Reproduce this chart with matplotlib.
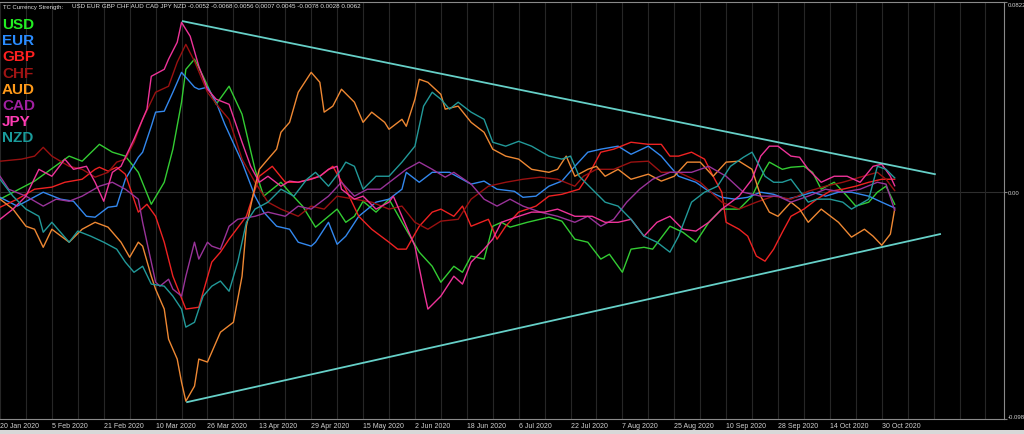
import matplotlib.pyplot as plt
from matplotlib.patches import Rectangle

# bar index = trading day counted from 20 Jan 2020
usd_x = [0, 8, 16, 19, 23, 26, 29, 32, 35, 38, 40, 42, 43, 45, 47, 50, 53, 56, 59, 61,
         63, 65, 67, 70, 73, 76, 78, 80, 82, 84, 87, 90, 93, 97, 100, 102, 105, 107, 109, 112,
         114, 116, 118, 122, 127, 130, 133, 136, 139, 141, 144, 146, 149, 151, 155, 158, 161, 164, 167, 171,
         174, 177, 178, 181, 183, 186, 188, 190, 193, 196, 198, 201, 203, 205, 207]
usd = [-0.0030, 0.0048, 0.0156, 0.0134, 0.0207, 0.0173, 0.0156, 0.0086, -0.0052, 0.0043,
       0.0186, 0.0389, 0.0531, 0.0575, 0.0501, 0.0380, 0.0458, 0.0337, 0.0099, -0.0017,
       0.0013, 0.0043, 0.0000, -0.0060, -0.0151, -0.0104, -0.0073, -0.0130, -0.0104, -0.0039,
       -0.0086, -0.0030, -0.0130, -0.0259, -0.0320, -0.0389, -0.0320, -0.0346, -0.0276, -0.0289,
       -0.0147, -0.0130, -0.0151, -0.0130, -0.0108, -0.0125, -0.0203, -0.0216, -0.0289, -0.0268,
       -0.0346, -0.0246, -0.0238, -0.0246, -0.0147, -0.0173, -0.0216, -0.0130, -0.0073, -0.0073,
       -0.0017, 0.0099, 0.0130, 0.0099, 0.0108, 0.0112, 0.0086, 0.0013, 0.0043, -0.0017,
       -0.0060, -0.0043, 0.0000, 0.0026, -0.0052]

eur_x = [0, 4, 10, 14, 17, 20, 22, 25, 27, 29, 32, 33, 35, 36, 38, 40, 42, 45, 46, 48,
         50, 52, 56, 59, 61, 64, 67, 69, 72, 73, 76, 78, 80, 83, 87, 90, 93, 94, 97, 100,
         104, 109, 112, 115, 119, 121, 124, 127, 130, 133, 136, 139, 143, 146, 150, 153, 155, 157, 161, 164,
         167, 170, 173, 176, 179, 182, 185, 188, 191, 194, 197, 201, 204, 207]
eur = [-0.0022, -0.0060, 0.0000, -0.0030, -0.0039, -0.0104, -0.0108, -0.0065, -0.0060, 0.0056,
       0.0151, 0.0173, 0.0285, 0.0346, 0.0350, 0.0432, 0.0518, 0.0454, 0.0445, 0.0454,
       0.0389, 0.0294, 0.0130, -0.0017, -0.0086, -0.0147, -0.0160, -0.0216, -0.0233, -0.0216,
       -0.0130, -0.0225, -0.0190, -0.0104, -0.0043, -0.0030, 0.0013, 0.0086, 0.0043, 0.0086,
       0.0086, 0.0035, 0.0048, 0.0013, 0.0004, -0.0022, -0.0017, 0.0026, 0.0048, 0.0112,
       0.0173, 0.0186, 0.0199, 0.0164, 0.0199, 0.0156, 0.0112, 0.0069, 0.0043, 0.0004,
       -0.0022, -0.0030, -0.0022, 0.0000, -0.0009, -0.0030, -0.0017, 0.0000, -0.0017, 0.0000,
       0.0000, -0.0017, -0.0043, -0.0068]

gbp_x = [0, 4, 8, 12, 15, 19, 22, 23, 25, 27, 29, 32, 34, 36, 38, 40, 43, 46, 49, 51,
         53, 57, 60, 63, 66, 69, 74, 77, 80, 83, 86, 90, 92, 94, 97, 100, 102, 105, 107, 109,
         113, 115, 117, 120, 124, 127, 130, 134, 136, 139, 142, 146, 150, 153, 155, 157, 160, 163, 165, 167,
         168, 171, 173, 175, 177, 179, 181, 183, 186, 189, 192, 195, 198, 201, 204, 207]
gbp = [-0.0065, -0.0030, 0.0013, 0.0022, 0.0043, 0.0056, 0.0099, 0.0108, 0.0091, 0.0108,
       0.0078, -0.0086, -0.0052, -0.0104, -0.0216, -0.0363, -0.0505, -0.0497, -0.0302, -0.0259,
       -0.0203, -0.0104, 0.0069, 0.0112, 0.0043, 0.0043, 0.0069, 0.0112, 0.0013, -0.0104,
       -0.0160, -0.0216, -0.0246, -0.0246, -0.0147, -0.0086, -0.0073, -0.0104, -0.0060, -0.0147,
       -0.0117, -0.0203, -0.0147, -0.0086, -0.0060, -0.0017, -0.0009, 0.0013, 0.0069, 0.0173,
       0.0186, 0.0216, 0.0207, 0.0207, 0.0156, 0.0156, 0.0173, 0.0143, 0.0069, 0.0000,
       -0.0130, -0.0160, -0.0190, -0.0276, -0.0298, -0.0246, -0.0173, -0.0104, -0.0073, -0.0030,
       0.0004, 0.0013, 0.0026, 0.0043, 0.0056, 0.0056]

chf_x = [0, 5, 8, 10, 12, 16, 19, 22, 25, 27, 29, 31, 33, 36, 39, 41, 43, 45, 48, 51,
         53, 56, 59, 62, 65, 69, 72, 75, 78, 82, 86, 90, 93, 96, 99, 102, 106, 109, 113, 117,
         121, 125, 129, 133, 135, 138, 142, 146, 150, 153, 157, 162, 167, 171, 175, 179, 183, 187, 191, 195,
         199, 203, 205, 207]
chf = [0.0134, 0.0143, 0.0156, 0.0194, 0.0156, 0.0112, 0.0099, 0.0065, 0.0086, 0.0130,
       0.0143, 0.0216, 0.0315, 0.0432, 0.0458, 0.0562, 0.0639, 0.0566, 0.0432, 0.0359,
       0.0315, 0.0143, 0.0043, -0.0043, -0.0073, -0.0104, -0.0060, -0.0073, -0.0017, -0.0030,
       -0.0043, -0.0073, -0.0060, -0.0130, -0.0160, -0.0125, -0.0117, -0.0030, 0.0026, 0.0043,
       0.0056, 0.0065, 0.0056, 0.0026, 0.0069, 0.0099, 0.0099, 0.0130, 0.0134, 0.0086,
       0.0086, 0.0043, -0.0043, -0.0073, -0.0043, -0.0017, -0.0030, 0.0004, 0.0026, 0.0043,
       0.0065, 0.0086, 0.0056, 0.0007]

aud_x = [0, 3, 6, 8, 10, 12, 16, 19, 22, 25, 28, 30, 32, 33, 35, 36, 38, 39, 41, 42,
         43, 45, 46, 48, 49, 51, 54, 56, 57, 59, 60, 62, 64, 65, 67, 69, 72, 74, 75, 77,
         79, 82, 84, 86, 89, 90, 93, 94, 96, 97, 99, 102, 103, 106, 109, 112, 114, 117, 120, 123,
         127, 129, 131, 133, 136, 138, 140, 143, 146, 150, 153, 156, 159, 162, 165, 168, 171, 174, 176, 178,
         180, 183, 185, 187, 190, 194, 197, 200, 202, 204, 206, 207]
aud = [-0.0030, -0.0073, -0.0147, -0.0160, -0.0238, -0.0160, -0.0216, -0.0160, -0.0130, -0.0151,
       -0.0216, -0.0281, -0.0216, -0.0233, -0.0363, -0.0419, -0.0505, -0.0635, -0.0721, -0.0821,
       -0.0903, -0.0838, -0.0721, -0.0734, -0.0691, -0.0605, -0.0562, -0.0363, -0.0147, 0.0026,
       0.0099, 0.0143, 0.0186, 0.0259, 0.0302, 0.0432, 0.0518, 0.0475, 0.0346, 0.0372,
       0.0445, 0.0389, 0.0302, 0.0346, 0.0302, 0.0272, 0.0315, 0.0285, 0.0402, 0.0488,
       0.0475, 0.0423, 0.0359, 0.0372, 0.0302, 0.0259, 0.0186, 0.0156, 0.0143, 0.0099,
       0.0086, 0.0099, 0.0156, 0.0069, 0.0099, 0.0112, 0.0069, 0.0099, 0.0056, 0.0078,
       0.0048, 0.0069, 0.0130, 0.0130, 0.0069, 0.0130, 0.0134, 0.0099, -0.0017, -0.0086,
       -0.0104, -0.0043, -0.0073, -0.0130, -0.0073, -0.0130, -0.0194, -0.0160, -0.0190, -0.0229,
       -0.0181, -0.0073]

cad_x = [0, 2, 6, 10, 13, 16, 19, 23, 26, 29, 32, 33, 35, 36, 37, 39, 40, 42, 43, 45,
         46, 48, 49, 51, 53, 55, 59, 62, 66, 69, 72, 76, 79, 82, 85, 88, 91, 94, 97, 100,
         103, 105, 109, 112, 115, 118, 121, 125, 129, 133, 136, 139, 142, 145, 148, 151, 155, 160, 164, 168,
         172, 176, 180, 183, 187, 191, 195, 199, 203, 205, 207]
cad = [0.0069, 0.0013, -0.0017, -0.0060, -0.0030, -0.0039, -0.0017, 0.0026, 0.0043, 0.0013,
       -0.0030, -0.0130, -0.0302, -0.0389, -0.0406, -0.0376, -0.0419, -0.0449, -0.0363, -0.0216,
       -0.0289, -0.0216, -0.0233, -0.0246, -0.0147, -0.0117, -0.0104, -0.0086, -0.0104, -0.0060,
       -0.0073, -0.0017, 0.0043, -0.0017, 0.0013, 0.0013, 0.0056, 0.0099, 0.0130, 0.0099,
       0.0065, 0.0086, 0.0035, -0.0030, -0.0060, -0.0030, -0.0060, -0.0086, -0.0104, -0.0130,
       -0.0104, -0.0147, -0.0117, -0.0043, 0.0013, 0.0056, 0.0086, 0.0086, 0.0112, 0.0069,
       0.0000, -0.0017, -0.0017, -0.0043, -0.0017, 0.0013, 0.0000, 0.0013, 0.0043, 0.0035,
       -0.0078]

jpy_x = [0, 3, 6, 9, 12, 15, 17, 20, 22, 24, 26, 28, 31, 34, 35, 38, 39, 41, 42, 44,
         46, 48, 50, 53, 56, 58, 60, 62, 65, 67, 69, 72, 74, 76, 78, 79, 82, 84, 87, 90,
         91, 93, 96, 98, 99, 102, 105, 107, 109, 112, 114, 116, 120, 123, 126, 129, 133, 137, 140, 143,
         146, 149, 152, 155, 158, 161, 164, 167, 171, 174, 176, 178, 180, 183, 185, 187, 190, 193, 196, 199,
         202, 204, 206, 207]
jpy = [-0.0117, -0.0073, -0.0017, 0.0099, 0.0069, 0.0143, 0.0099, 0.0112, 0.0043, -0.0039,
       0.0086, 0.0112, 0.0229, 0.0359, 0.0501, 0.0531, 0.0575, 0.0648, 0.0734, 0.0674,
       0.0544, 0.0445, 0.0402, 0.0380, 0.0216, 0.0112, 0.0043, 0.0069, 0.0026, 0.0048,
       0.0043, 0.0056, 0.0069, 0.0099, 0.0112, 0.0013, -0.0030, -0.0017, -0.0073, -0.0043,
       -0.0017, -0.0104, -0.0233, -0.0419, -0.0505, -0.0449, -0.0363, -0.0397, -0.0302, -0.0246,
       -0.0203, -0.0130, -0.0104, -0.0086, -0.0086, -0.0073, -0.0104, -0.0104, -0.0130, -0.0130,
       -0.0117, -0.0190, -0.0130, -0.0104, -0.0160, -0.0168, -0.0130, -0.0073, -0.0017, 0.0056,
       0.0156, 0.0199, 0.0199, 0.0156, 0.0151, 0.0099, 0.0043, 0.0069, 0.0069, 0.0043,
       0.0112, 0.0121, 0.0069, 0.0028]

nzd_x = [0, 3, 6, 9, 10, 12, 16, 18, 21, 24, 27, 29, 31, 33, 35, 38, 40, 42, 43, 45,
         47, 49, 51, 53, 55, 57, 59, 62, 65, 68, 71, 73, 76, 79, 80, 82, 84, 87, 90, 93,
         96, 98, 100, 102, 104, 106, 109, 112, 114, 117, 120, 123, 127, 130, 132, 134, 137, 140, 143, 146,
         149, 152, 155, 157, 160, 163, 166, 169, 172, 174, 177, 179, 181, 183, 187, 189, 192, 195, 197, 201,
         203, 205, 207]
nzd = [0.0056, -0.0017, -0.0073, -0.0104, -0.0173, -0.0130, -0.0216, -0.0168, -0.0190, -0.0216,
       -0.0246, -0.0302, -0.0346, -0.0320, -0.0397, -0.0406, -0.0449, -0.0505, -0.0583, -0.0562,
       -0.0449, -0.0406, -0.0384, -0.0428, -0.0302, -0.0130, -0.0073, -0.0043, 0.0013, -0.0017,
       0.0056, 0.0086, 0.0026, 0.0099, 0.0130, 0.0112, 0.0013, 0.0069, 0.0069, 0.0130,
       0.0199, 0.0372, 0.0432, 0.0402, 0.0359, 0.0389, 0.0346, 0.0315, 0.0216, 0.0199,
       0.0220, 0.0199, 0.0156, 0.0143, 0.0156, 0.0069, 0.0013, -0.0043, -0.0060, -0.0117,
       -0.0190, -0.0216, -0.0259, -0.0190, -0.0043, 0.0000, 0.0026, 0.0112, 0.0151, 0.0173,
       0.0069, 0.0043, 0.0043, 0.0056, -0.0043, -0.0030, -0.0030, -0.0043, -0.0073, -0.0030,
       0.0112, 0.0099, 0.0062]

# hand-drawn triangle (trend lines)
upper_x = [42.3, 216.3]
upper_v = [0.0739, 0.0078]
lower_x = [43.3, 217.5]
lower_v = [-0.0907, -0.0181]

names = ["USD", "EUR", "GBP", "CHF", "AUD", "CAD", "JPY", "NZD"]
label_colors = ["#22ee22", "#2a8cff", "#ff2020", "#a01414", "#ff9a1a", "#a020a0", "#ff3cb4", "#1a9b9b"]
line_colors = ["#33cc33", "#3388ee", "#ee2222", "#991111", "#ee8833", "#993399", "#ee3399", "#229999"]
last_values = "-0.0052 -0.0068 0.0056 0.0007 0.0045 -0.0078 0.0028 0.0062"

date_labels = ["20 Jan 2020", "5 Feb 2020", "21 Feb 2020", "10 Mar 2020", "26 Mar 2020",
               "13 Apr 2020", "29 Apr 2020", "15 May 2020", "2 Jun 2020", "18 Jun 2020",
               "6 Jul 2020", "22 Jul 2020", "7 Aug 2020", "25 Aug 2020", "10 Sep 2020",
               "28 Sep 2020", "14 Oct 2020", "30 Oct 2020"]

fig = plt.figure(figsize=(10.24, 4.35), dpi=100, facecolor="black")
ax = fig.add_axes([0.0, 0.0345, 0.9805, 0.9586])
ax.set_facecolor("black")

series = [(usd_x, usd), (eur_x, eur), (gbp_x, gbp), (chf_x, chf),
          (aud_x, aud), (cad_x, cad), (jpy_x, jpy), (nzd_x, nzd)]
for (xs, vs), c in zip(series, line_colors):
    ax.plot(xs, vs, color=c, lw=1.0, zorder=3)

ax.plot(upper_x, upper_v, color="#66d0c8", lw=1.3, zorder=4)
ax.plot(lower_x, lower_v, color="#66d0c8", lw=1.3, zorder=4)

ax.set_xlim(0, 232.3)
ax.set_ylim(-0.098, 0.0822)

ax.set_xticks(range(0, 12 * len(date_labels), 12))
ax.set_xticklabels(date_labels, ha="left", fontsize=5, color="#d0d0d0", family="Liberation Sans")
ax.set_xticks(range(0, 233, 6), minor=True)
ax.grid(True, axis="x", which="both", color="#262626", lw=0.8, zorder=0)
ax.axhline(0, color="#2e2e2e", lw=0.8, zorder=1)
ax.tick_params(axis="x", which="both", length=0, pad=2)

ax.yaxis.tick_right()
ax.set_yticks([-0.098, 0.0, 0.0822])
ax.set_yticklabels(["-0.098", "0.00", "0.0822"], fontsize=4.3, color="#d0d0d0", family="Liberation Sans")
ax.get_yticklabels()[2].set_va("top")
ax.get_yticklabels()[0].set_va("bottom")
ax.tick_params(axis="y", length=2, color="#808080", pad=0.5)

for side in ["top", "right", "bottom"]:
    ax.spines[side].set_color("#8a8a8a")
    ax.spines[side].set_linewidth(0.8)
ax.spines["left"].set_visible(False)

fig.text(3 / 1024, 1 - 7 / 435, "TC Currency Strength:", fontsize=4.3, color="#e0e0e0",
         va="center", family="Liberation Sans")
fig.text(72 / 1024, 1 - 7 / 435, " ".join(names) + " " + last_values, fontsize=4.5,
         color="#e0e0e0", va="center", family="Liberation Sans")

for i, (n, c) in enumerate(zip(names, label_colors)):
    fig.text(2 / 1024, 1 - (25 + i * 16.2) / 435, n, fontsize=11, fontweight="bold",
             color=c, va="center", family="Liberation Sans")

fig.add_artist(Rectangle((0, 0), 1, 4 / 435, transform=fig.transFigure,
                         facecolor="#d8d8d8", edgecolor="none"))

fig.savefig("out.png", dpi=100, facecolor="black")
